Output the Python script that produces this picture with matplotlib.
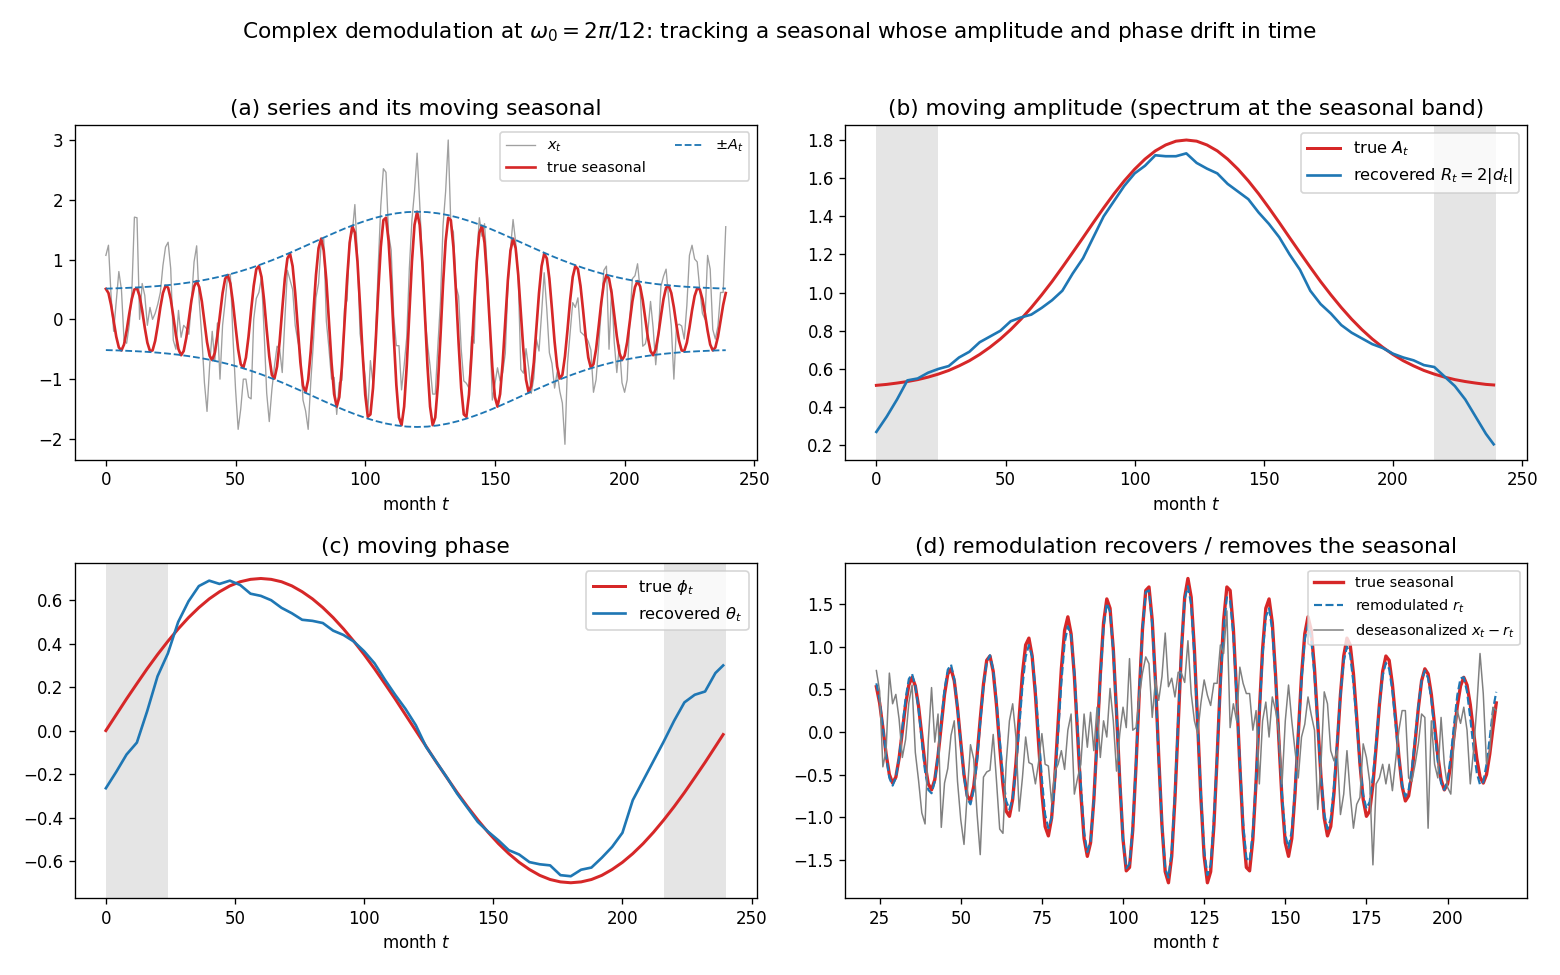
import numpy as np
import matplotlib.pyplot as plt

# monthly series x_t (a) and (d)
series_x = [
    1.07, 1.24, 0.40, -0.20, 0.30, 0.80, 0.50, -0.35, -0.40, -0.10, 0.45, 1.71,
    1.70, 0.00, 0.60, 0.40, -0.10, 0.20, 0.00, 0.10, 0.25, 0.45, 0.90, 1.21,
    1.29, 0.85, -0.35, -0.50, 0.15, -0.30, -0.10, -0.15, -0.25, 0.30, 0.96, 1.23,
    0.30, -0.30, -1.06, -1.54, -0.78, -0.20, -0.70, -0.06, -1.00, -0.10, 0.30, 0.75,
    0.75, -0.30, -1.17, -1.84, -1.50, -1.00, -1.00, -1.30, -1.33, 0.00, 0.35, 0.45,
    0.70, -0.20, -1.23, -1.71, -1.18, -0.78, -0.45, -0.50, -0.89, -0.01, 0.82, 0.66,
    0.50, -0.10, -0.36, -0.57, -1.35, -1.53, -1.84, -1.05, -0.40, 0.36, 0.60, 1.26,
    1.34, -0.03, -0.48, -1.00, -0.97, -1.59, -1.06, -1.02, 0.18, 0.32, 1.35, 1.45,
    1.92, 1.07, -0.24, -0.58, -0.97, -1.55, -0.69, -1.08, -0.31, 0.88, 1.90, 2.52,
    2.46, 1.43, 1.16, 0.05, -0.44, -0.44, -1.18, -0.77, -0.30, 0.85, 1.66, 2.14,
    2.78, 1.94, 1.01, 0.06, -0.40, -0.78, -1.25, -1.25, -0.45, 0.30, 1.57, 2.14,
    3.00, 1.59, 1.46, 0.55, 0.39, -0.50, -1.03, -1.07, -1.15, -0.29, -0.40, 1.03,
    1.70, 1.39, 1.60, 0.87, -0.07, -1.35, -1.08, -0.81, -1.03, -0.89, -0.57, 0.55,
    1.18, 1.67, 1.29, 0.68, -0.84, -0.90, -0.49, -0.81, -1.24, -0.98, -0.33, -0.53,
    0.10, 0.78, 0.17, -0.56, -0.74, -1.15, -0.88, -1.20, -1.40, -2.09, -0.73, -0.22,
    0.28, 0.20, 0.36, -0.21, -0.25, -0.29, -0.37, -0.51, -1.22, -1.01, -0.45, 0.16,
    0.82, 0.89, -0.50, 0.51, -0.38, -0.89, -0.43, -1.06, -1.22, -1.01, -0.01, 0.68,
    0.73, 0.93, 0.49, -0.45, -0.41, -0.19, 0.30, -0.14, -0.76, -0.29, 0.55, 0.72,
    0.84, 0.34, -0.11, -1.00, -0.11, -0.08, -0.11, -0.33, 0.23, 1.07, 1.24, 1.01,
    0.96, 0.50, 0.10, 0.00, 1.07, 0.84, -0.17, -0.33, -0.11, 0.45, 0.45, 1.55,
]

# true seasonal (red line)
seasonal = [
    0.51, 0.44, 0.24, -0.03, -0.29, -0.47, -0.52, -0.42, -0.19, 0.09, 0.34, 0.50,
    0.52, 0.39, 0.15, -0.14, -0.39, -0.53, -0.52, -0.36, -0.10, 0.20, 0.44, 0.56,
    0.53, 0.34, 0.05, -0.26, -0.50, -0.60, -0.53, -0.31, 0.00, 0.32, 0.55, 0.64,
    0.54, 0.30, -0.04, -0.38, -0.61, -0.68, -0.56, -0.28, 0.08, 0.44, 0.68, 0.74,
    0.60, 0.28, -0.12, -0.50, -0.75, -0.81, -0.64, -0.29, 0.15, 0.56, 0.84, 0.89,
    0.71, 0.32, -0.17, -0.62, -0.93, -0.99, -0.79, -0.37, 0.17, 0.68, 1.02, 1.10,
    0.89, 0.44, -0.15, -0.72, -1.11, -1.22, -1.01, -0.53, 0.11, 0.74, 1.19, 1.35,
    1.15, 0.66, -0.03, -0.72, -1.25, -1.46, -1.30, -0.80, -0.08, 0.67, 1.28, 1.56,
    1.45, 0.97, 0.23, -0.58, -1.26, -1.63, -1.59, -1.15, -0.40, 0.45, 1.21, 1.66,
    1.70, 1.31, 0.59, -0.29, -1.10, -1.64, -1.77, -1.46, -0.78, 0.10, 0.96, 1.58,
    1.80, 1.58, 0.96, 0.10, -0.78, -1.46, -1.77, -1.64, -1.10, -0.29, 0.59, 1.31,
    1.70, 1.66, 1.21, 0.45, -0.40, -1.15, -1.59, -1.63, -1.26, -0.58, 0.23, 0.97,
    1.45, 1.56, 1.28, 0.67, -0.08, -0.80, -1.30, -1.46, -1.25, -0.72, -0.03, 0.66,
    1.15, 1.35, 1.19, 0.74, 0.11, -0.53, -1.01, -1.22, -1.11, -0.72, -0.15, 0.44,
    0.89, 1.10, 1.02, 0.68, 0.17, -0.37, -0.79, -0.99, -0.93, -0.62, -0.17, 0.32,
    0.71, 0.89, 0.84, 0.56, 0.15, -0.29, -0.64, -0.81, -0.75, -0.50, -0.12, 0.28,
    0.60, 0.74, 0.68, 0.44, 0.08, -0.28, -0.56, -0.68, -0.61, -0.38, -0.04, 0.30,
    0.54, 0.64, 0.55, 0.32, 0.00, -0.31, -0.53, -0.60, -0.50, -0.26, 0.05, 0.34,
    0.53, 0.56, 0.44, 0.20, -0.10, -0.36, -0.52, -0.53, -0.39, -0.14, 0.15, 0.39,
    0.52, 0.50, 0.34, 0.09, -0.19, -0.42, -0.52, -0.47, -0.29, -0.03, 0.24, 0.44,
]

# smooth curves read every 4 months (+ last month)
coarse_t = list(range(0, 240, 4)) + [239]
amp_true = [
    0.514, 0.519, 0.526, 0.534, 0.544, 0.557, 0.573, 0.592, 0.616, 0.643, 0.676,
    0.714, 0.757, 0.806, 0.861, 0.922, 0.988, 1.058, 1.133, 1.210, 1.288, 1.367,
    1.444, 1.518, 1.586, 1.647, 1.700, 1.743, 1.774, 1.794, 1.800,
    1.794, 1.774, 1.743, 1.700, 1.647, 1.586, 1.518, 1.444, 1.367, 1.288, 1.210,
    1.133, 1.058, 0.988, 0.922, 0.861, 0.806, 0.757, 0.714, 0.676, 0.643, 0.616,
    0.592, 0.573, 0.557, 0.544, 0.534, 0.526, 0.519, 0.516,
]
amp_rec = [
    0.27, 0.35, 0.44, 0.54, 0.55, 0.58, 0.60, 0.615, 0.66, 0.69, 0.74,
    0.77, 0.80, 0.85, 0.87, 0.885, 0.92, 0.96, 1.01, 1.10, 1.18, 1.29,
    1.40, 1.48, 1.56, 1.625, 1.665, 1.72, 1.715, 1.715, 1.73,
    1.68, 1.65, 1.625, 1.57, 1.53, 1.49, 1.42, 1.36, 1.29, 1.20, 1.12,
    1.01, 0.94, 0.89, 0.83, 0.79, 0.76, 0.73, 0.71, 0.68, 0.66, 0.645,
    0.62, 0.61, 0.56, 0.51, 0.44, 0.35, 0.26, 0.205,
]
phase_true = [
    0.0, 0.073, 0.146, 0.216, 0.285, 0.350, 0.411, 0.468, 0.520, 0.566, 0.606,
    0.639, 0.666, 0.685, 0.696, 0.700, 0.696, 0.685, 0.666, 0.639, 0.606, 0.566,
    0.520, 0.468, 0.411, 0.350, 0.285, 0.216, 0.146, 0.073, 0.0,
    -0.073, -0.146, -0.216, -0.285, -0.350, -0.411, -0.468, -0.520, -0.566, -0.606, -0.639,
    -0.666, -0.685, -0.696, -0.700, -0.696, -0.685, -0.666, -0.639, -0.606, -0.566, -0.520,
    -0.468, -0.411, -0.350, -0.285, -0.216, -0.146, -0.073, -0.018,
]
phase_rec = [
    -0.265, -0.19, -0.11, -0.055, 0.09, 0.25, 0.355, 0.50, 0.595, 0.665, 0.69,
    0.675, 0.69, 0.67, 0.63, 0.62, 0.60, 0.565, 0.54, 0.51, 0.505, 0.495,
    0.46, 0.44, 0.41, 0.365, 0.31, 0.235, 0.165, 0.10, 0.025,
    -0.075, -0.145, -0.215, -0.29, -0.355, -0.42, -0.465, -0.505, -0.55, -0.57, -0.605,
    -0.615, -0.62, -0.665, -0.67, -0.64, -0.63, -0.585, -0.535, -0.47, -0.32, -0.23,
    -0.14, -0.05, 0.045, 0.13, 0.165, 0.18, 0.265, 0.30,
]

# remodulated seasonal r_t, months 24..215
remod = [
    0.57, 0.37, 0.06, -0.28, -0.54, -0.63, -0.54, -0.30, 0.05, 0.39, 0.62, 0.68,
    0.54, 0.27, -0.11, -0.46, -0.68, -0.72, -0.58, -0.27, 0.12, 0.50, 0.73, 0.79,
    0.62, 0.28, -0.14, -0.52, -0.78, -0.85, -0.68, -0.35, 0.11, 0.53, 0.82, 0.90,
    0.73, 0.37, -0.09, -0.52, -0.81, -0.91, -0.78, -0.44, 0.04, 0.53, 0.88, 1.02,
    0.88, 0.51, -0.01, -0.55, -0.97, -1.13, -1.01, -0.59, -0.02, 0.58, 1.04, 1.24,
    1.13, 0.70, 0.06, -0.62, -1.18, -1.41, -1.29, -0.80, -0.11, 0.62, 1.22, 1.51,
    1.41, 0.94, 0.22, -0.56, -1.26, -1.60, -1.55, -1.10, -0.36, 0.47, 1.21, 1.64,
    1.66, 1.26, 0.55, -0.32, -1.09, -1.60, -1.71, -1.40, -0.71, 0.15, 0.97, 1.56,
    1.71, 1.49, 0.88, 0.08, -0.74, -1.39, -1.68, -1.56, -1.02, -0.27, 0.55, 1.22,
    1.58, 1.54, 1.13, 0.42, -0.37, -1.07, -1.48, -1.52, -1.17, -0.54, 0.21, 0.90,
    1.35, 1.45, 1.19, 0.62, -0.07, -0.74, -1.21, -1.36, -1.16, -0.67, -0.03, 0.61,
    1.09, 1.26, 1.09, 0.66, 0.07, -0.52, -0.96, -1.14, -1.02, -0.64, -0.11, 0.44,
    0.83, 1.00, 0.90, 0.57, 0.11, -0.38, -0.74, -0.90, -0.82, -0.53, -0.12, 0.32,
    0.66, 0.81, 0.74, 0.48, 0.09, -0.31, -0.62, -0.76, -0.68, -0.43, -0.07, 0.30,
    0.61, 0.72, 0.63, 0.38, 0.00, -0.35, -0.60, -0.68, -0.57, -0.28, 0.09, 0.43,
    0.63, 0.64, 0.47, 0.16, -0.19, -0.48, -0.62, -0.59, -0.38, -0.07, 0.26, 0.47,
]

edge = 24          # months lost at each end by the smoother
n = len(series_x)
months = np.arange(n)
remod_t = np.arange(edge, edge + len(remod))

x = np.array(series_x)
amp = np.array(amp_true)
deseason = x[edge:edge + len(remod)] - np.array(remod)

fig, axes = plt.subplots(2, 2, figsize=(13, 8.125), dpi=120)
plt.subplots_adjust(left=0.048, right=0.979, top=0.872, bottom=0.079,
                    wspace=0.13, hspace=0.31)
fig.suptitle(r"Complex demodulation at $\omega_0 = 2\pi/12$: tracking a seasonal "
             "whose amplitude and phase drift in time", fontsize=13, y=0.98)

# (a)
ax = axes[0, 0]
ax.plot(months, x, color="gray", lw=0.8, alpha=0.75, label="$x_t$")
ax.plot(months, seasonal, color="tab:red", lw=1.6, label="true seasonal")
ax.plot(coarse_t, amp, "--", color="tab:blue", lw=1.1, label=r"$\pm A_t$")
ax.plot(coarse_t, -amp, "--", color="tab:blue", lw=1.1)
ax.set_title("(a) series and its moving seasonal", fontsize=13)
ax.set_xlabel("month $t$")
ax.legend(fontsize=8.7, ncol=2, loc="upper right")

# (b)
ax = axes[0, 1]
ax.axvspan(0, edge, color="gray", alpha=0.2, lw=0)
ax.axvspan(n - edge, n, color="gray", alpha=0.2, lw=0)
ax.plot(coarse_t, amp_true, color="tab:red", lw=1.8, label="true $A_t$")
ax.plot(coarse_t, amp_rec, color="tab:blue", lw=1.6, label=r"recovered $R_t = 2|d_t|$")
ax.set_title("(b) moving amplitude (spectrum at the seasonal band)", fontsize=13)
ax.set_xlabel("month $t$")
ax.legend(fontsize=9.75, loc="upper right")

# (c)
ax = axes[1, 0]
ax.axvspan(0, edge, color="gray", alpha=0.2, lw=0)
ax.axvspan(n - edge, n, color="gray", alpha=0.2, lw=0)
ax.plot(coarse_t, phase_true, color="tab:red", lw=1.8, label=r"true $\phi_t$")
ax.plot(coarse_t, phase_rec, color="tab:blue", lw=1.6, label=r"recovered $\theta_t$")
ax.set_title("(c) moving phase", fontsize=13)
ax.set_xlabel("month $t$")
ax.legend(fontsize=9.75, loc="upper right")

# (d)
ax = axes[1, 1]
ax.plot(remod_t, seasonal[edge:edge + len(remod)], color="tab:red", lw=2.0,
        label="true seasonal")
ax.plot(remod_t, remod, "--", color="tab:blue", lw=1.3, label="remodulated $r_t$")
ax.plot(remod_t, deseason, color="gray", lw=0.9, label="deseasonalized $x_t - r_t$")
ax.set_title("(d) remodulation recovers / removes the seasonal", fontsize=13)
ax.set_xlabel("month $t$")
ax.legend(fontsize=8.7, loc="upper right")

fig.savefig("out.png")
